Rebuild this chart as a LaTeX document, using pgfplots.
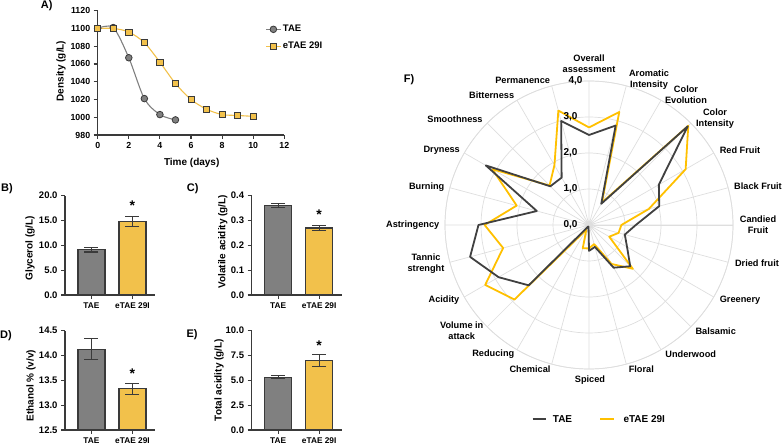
\documentclass[border=0pt]{standalone}
\usepackage{fontspec}
\setmainfont{Liberation Sans}
\usepackage{pgfplots}
\pgfplotsset{compat=1.18}
\usepgfplotslibrary{polar}
\definecolor{cgray}{HTML}{808080}
\definecolor{cdark}{HTML}{3A3A3A}
\definecolor{cyel}{HTML}{F2C14B}
\definecolor{rdark}{HTML}{404040}
\definecolor{ryel}{HTML}{FFC000}
\definecolor{cgrid}{HTML}{DEDEDE}
\newcommand{\tfa}{\fontsize{8.8}{10}\selectfont\bfseries}
\newcommand{\tfy}{\fontsize{9.5}{11}\selectfont\bfseries}
\newcommand{\tfx}{\fontsize{8.3}{10}\selectfont\bfseries}
\newcommand{\lf}{\fontsize{10}{12}\selectfont\bfseries}
\newcommand{\rf}{\fontsize{9.2}{11}\selectfont\bfseries}
\newcommand{\pf}{\fontsize{11}{13}\selectfont\bfseries}
\newcommand{\af}{\fontsize{14}{14}\selectfont\bfseries}
\pgfplotsset{
  gp/.style={
    scale only axis,
    axis lines=left,
    axis line style={-, line width=1.1pt, cdark},
    tick align=outside,
    major tick length=4pt,
    tick style={line width=1.1pt, cdark},
    /pgf/number format/assume math mode=true,
    /pgf/number format/1000 sep={},
  },
  bars/.style={gp, xmin=0.354, xmax=2.55, width=90pt, height=99.3pt,
    xtick={1,2}, xticklabels={TAE, eTAE 29I},
    xticklabel style={font=\tfx},
    yticklabel style={font=\tfy, /pgf/number format/.cd, fixed, fixed zerofill, precision=1, /tikz/.cd},
  },
  gbar/.style={ybar, bar shift=0pt, bar width=27pt, fill=cgray, draw=cdark, line width=1.1pt,
    error bars/.cd, y dir=both, y explicit, error bar style={line width=1.1pt, cdark},
    error mark options={rotate=90, mark size=7pt, line width=1.1pt, cdark}},
  ybarst/.style={ybar, bar shift=0pt, bar width=27pt, fill=cyel, draw=cdark, line width=1.1pt,
    error bars/.cd, y dir=both, y explicit, error bar style={line width=1.1pt, cdark},
    error mark options={rotate=90, mark size=7pt, line width=1.1pt, cdark}},
}
\begin{document}
\begin{tikzpicture}[x=1pt,y=1pt]
\useasboundingbox (0,0) rectangle (784,446);

% ---------------- A ----------------
\begin{axis}[gp, at={(97.7pt,311pt)}, anchor=south west, width=186.6pt, height=124.3pt,
  xmin=0, xmax=12, ymin=980, ymax=1120, xtick={0,2,...,12}, ytick={980,1000,...,1120},
  tick label style={font=\tfa},
  legend style={at={(0.9,0.9)}, anchor=north west, draw=none, fill=none,
    font=\fontsize{9.5}{11}\selectfont\bfseries, row sep=5pt, inner sep=0pt},
  legend cell align=left,
  legend image code/.code={\draw[mark repeat=2,mark phase=2,#1] plot coordinates {(0pt,0pt) (7pt,0pt) (14pt,0pt)};}]
\addplot[smooth, tension=0.5, cgray, line width=1.1pt, mark=*, mark size=3.3pt,
  mark options={fill=cgray, draw=cdark, line width=0.8pt}]
  coordinates {(0,1100) (1,1101) (2,1067) (3,1021) (4,1003) (5,997)};
\addlegendentry{TAE}
\addplot[smooth, tension=0.5, cyel, line width=1.1pt, mark=square*, mark size=3.1pt,
  mark options={fill=cyel, draw=cdark, line width=0.8pt}]
  coordinates {(0,1100) (1,1100) (2,1096) (3,1084) (4,1062) (5,1038) (6,1020) (7,1009) (8,1003) (9,1002) (10,1001)};
\addlegendentry{eTAE 29I}
\end{axis}
\node[font=\pf] at (46.7,440) {A)};
\node[font=\lf, rotate=90] at (61,375) {Density (g/L)};
\node[font=\lf] at (191.7,283.3) {Time (days)};

% ---------------- B ----------------
\begin{axis}[bars, at={(65pt,151pt)}, anchor=south west, ymin=0, ymax=20, ytick={0,5,...,20}]
\addplot[gbar] coordinates {(1,9.1) +- (0,0.45)};
\addplot[ybarst] coordinates {(2,14.75) +- (0,1.0)};
\node[font=\af, yshift=-3pt] at (axis cs:2,18.67) {*};
\end{axis}
\node[font=\pf] at (7,257.7) {B)};
\node[font=\lf, rotate=90] at (30,197.7) {Glycerol (g/L)};

% ---------------- C ----------------
\begin{axis}[bars, at={(251.7pt,151pt)}, anchor=south west, ymin=0, ymax=0.4, ytick={0,0.1,...,0.4}]
\addplot[gbar] coordinates {(1,0.36) +- (0,0.008)};
\addplot[ybarst] coordinates {(2,0.27) +- (0,0.01)};
\node[font=\af, yshift=-3pt] at (axis cs:2,0.336) {*};
\end{axis}
\node[font=\pf] at (192.7,257.7) {C)};
\node[font=\lf, rotate=90] at (222.7,204.3) {Volatile acidity (g/L)};

% ---------------- D ----------------
\begin{axis}[bars, at={(65pt,16pt)}, anchor=south west, ymin=12.5, ymax=14.5, ytick={12.5,13,13.5,14,14.5}]
\addplot[gbar] coordinates {(1,14.13) +- (0,0.21)};
\addplot[ybarst] coordinates {(2,13.33) +- (0,0.11)};
\node[font=\af, yshift=-3pt] at (axis cs:2,13.69) {*};
\end{axis}
\node[font=\pf] at (6,110) {D)};
\node[font=\lf, rotate=90] at (31,60.3) {Ethanol \% (v/v)};

% ---------------- E ----------------
\begin{axis}[bars, at={(251.7pt,16pt)}, anchor=south west, ymin=0, ymax=10, ytick={0,2.5,5,7.5,10}]
\addplot[gbar] coordinates {(1,5.3) +- (0,0.15)};
\addplot[ybarst] coordinates {(2,7.0) +- (0,0.6)};
\node[font=\af, yshift=-3pt] at (axis cs:2,8.79) {*};
\end{axis}
\node[font=\pf] at (192,111) {E)};
\node[font=\lf, rotate=90] at (219,66) {Total acidity (g/L)};

% ---------------- F ----------------
\begin{polaraxis}[at={(589pt,221pt)}, anchor=center, scale only axis, width=288pt, height=288pt,
  xmin=0, xmax=360, ymin=0, ymax=4,
  xtick={0,15,...,345}, ytick={1,2,3,4},
  xticklabels={}, yticklabels={},
  grid=major, major grid style={cgrid, line width=0.7pt},
  axis line style={cgrid, line width=0.7pt},
  major tick length=0pt, clip=false]
\addplot[ryel, line width=1.8pt, line join=round, no marks] coordinates {
 (90,2.71) (75,3.25) (60,0.72) (45,3.9) (30,3.1) (15,1.72) (0,0.9) (345,0.85)
 (330,0.65) (315,1.72) (300,1.25) (285,0.55) (270,0.65) (255,0.67) (240,0.15) (225,2.93)
 (210,3.33) (195,2.47) (180,2.9) (165,2.08) (150,3.1) (135,1.55) (120,1.92) (105,3.29) (90,2.71)};
\addplot[rdark, line width=1.8pt, line join=round, no marks] coordinates {
 (90,2.5) (75,2.86) (60,0.68) (45,3.88) (30,2.24) (15,2.02) (0,1.3) (345,1.03)
 (330,1.22) (315,1.62) (300,1.37) (285,0.63) (270,0.72) (255,0.05) (240,0.05) (225,2.37)
 (210,2.9) (195,3.42) (180,3.07) (165,1.5) (150,3.31) (135,1.52) (120,1.52) (105,2.99) (90,2.5)};
\node[font=\lf, anchor=east, xshift=-8pt] at (axis cs:90,0) {0,0};
\node[font=\lf, anchor=east, xshift=-8pt] at (axis cs:90,1) {1,0};
\node[font=\lf, anchor=east, xshift=-8pt] at (axis cs:90,2) {2,0};
\node[font=\lf, anchor=east, xshift=-8pt] at (axis cs:90,3) {3,0};
\node[font=\lf, anchor=east, xshift=-3pt] at (axis cs:90,4) {4,0};
\end{polaraxis}
\node[font=\pf] at (409,366) {F)};
\begin{scope}[every node/.style={font=\rf, align=center}]
\node at (589,382) {Overall\\assessment};
\node at (649,366) {Aromatic\\Intensity};
\node at (686,351) {Color\\Evolution};
\node at (715,327.3) {Color\\Intensity};
\node at (740,296) {Red Fruit};
\node at (758,260) {Black Fruit};
\node at (758,221) {Candied\\Fruit};
\node at (757,183) {Dried fruit};
\node at (740,146) {Greenery};
\node at (715.7,115) {Balsamic};
\node at (690.7,91.7) {Underwood};
\node at (641.3,76.7) {Floral};
\node at (590,66) {Spiced};
\node at (530,76.7) {Chemical};
\node at (493.3,91.7) {Reducing};
\node at (461.7,115.5) {Volume in\\attack};
\node at (444,146) {Acidity};
\node at (426,182.7) {Tannic\\strenght};
\node at (412.7,221) {Astringency};
\node at (426.7,259.3) {Burning};
\node at (441.7,296) {Dryness};
\node at (455,326.7) {Smoothness};
\node at (491.7,351) {Bitterness};
\node at (522.7,365.3) {Permanence};
\end{scope}
% legend of F
\draw[rdark, line width=2pt] (532.7,27) -- (546,27);
\node[font=\lf, anchor=west, inner sep=0pt] at (552.7,27) {TAE};
\draw[ryel, line width=2pt] (600,27) -- (614,27);
\node[font=\lf, anchor=west, inner sep=0pt] at (623.3,27) {eTAE 29I};
\end{tikzpicture}
\end{document}
